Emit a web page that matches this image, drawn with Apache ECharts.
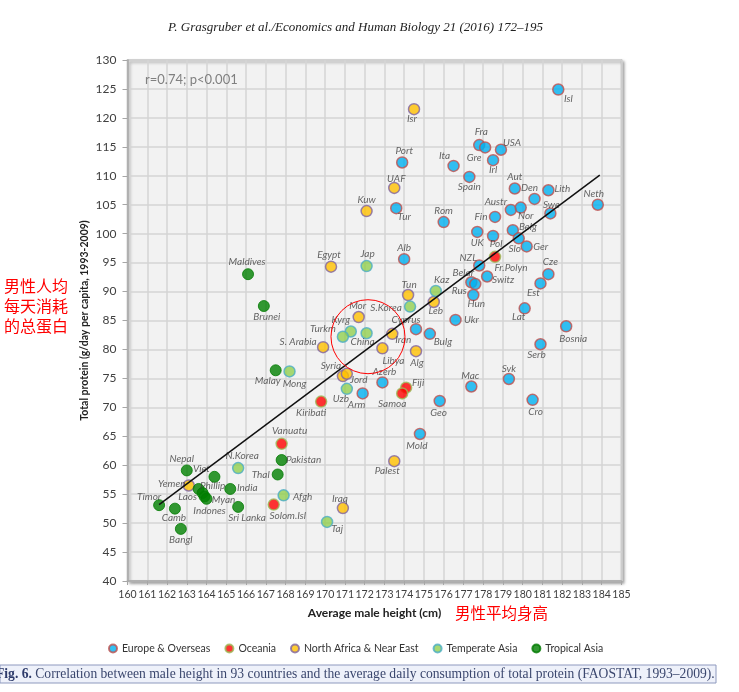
<!DOCTYPE html>
<html><head><meta charset="utf-8">
<script src="https://cdn.jsdelivr.net/npm/echarts@6/dist/echarts.min.js"></script>
<style>html,body{margin:0;padding:0;background:#fff}#c{width:739px;height:692px}</style>
</head><body><div id="c"></div>
<script>
// ---------- DATA ----------
const xMin = 160, xMax = 185, xStep = 1;
const yMin = 40, yMax = 130, yStep = 5;

const europeNames = ['Isl','Fra','Gre','USA','Irl','Port','Ita','Spain','Aut','Den','Lith','Neth','Austr','Nor','Swe','Fin','Rom','Tur','UK','Pol','Belg','Slo','Ger','Alb','NZL','Switz','Belar','Rus','Hun','Cze','Est','Lat','Ukr','Bosnia','Serb','Mac','Svk','Cro','Geo','Cyprus','Bulg','Arm','Azerb','Mold'];
const europeHeight = [181.8,177.8,178.1,178.9,178.5,173.9,176.5,177.3,179.6,180.6,181.3,183.8,179.4,179.9,181.4,178.6,176.0,173.6,177.7,178.5,179.5,179.8,180.2,174.0,177.8,178.2,177.4,177.6,177.5,181.3,180.9,180.1,176.6,182.2,180.9,177.4,179.3,180.5,175.8,174.6,175.3,171.9,172.9,174.8];
const europeProtein = [124.9,115.3,114.9,114.5,112.7,112.3,111.7,109.8,107.8,106.0,107.5,105.0,104.1,104.5,103.5,102.9,102.0,104.4,100.3,99.6,100.6,99.2,97.8,95.6,94.5,92.6,91.6,91.3,89.4,93.0,91.4,87.1,85.1,84.0,80.9,73.6,74.9,71.3,71.1,83.5,82.7,72.4,74.3,65.4];

const oceaniaNames = ['Fr.Polyn','Fiji','Samoa','Kiribati','Vanuatu','Solom.Isl'];
const oceaniaHeight = [178.6,174.1,173.9,169.8,167.8,167.4];
const oceaniaProtein = [96.0,73.4,72.4,71.0,63.7,53.2];

const nafrNames = ['Isr','Kuw','UAF','Egypt','Tun','Leb','Mor','Iran','S. Arabia','Libya','Alg','Syria','Jord','Palest','Iraq','Yemen'];
const nafrHeight = [174.5,172.1,173.5,170.3,174.2,175.5,171.7,173.4,169.9,172.9,174.6,170.9,171.1,173.5,170.9,163.1];
const nafrProtein = [121.5,103.9,107.9,94.3,89.4,88.2,85.6,82.7,80.4,80.2,79.7,75.4,75.8,60.7,52.6,56.5];

const tempNames = ['Jap','Kaz','S.Korea','Kyrg','Turkm','China','Uzb','Mong','N.Korea','Afgh','Taj'];
const tempHeight = [172.1,175.6,174.3,171.3,170.9,172.1,171.1,168.2,165.6,167.9,170.1];
const tempProtein = [94.4,90.1,87.4,83.1,82.2,82.8,73.2,76.2,59.5,54.8,50.2];

const tropNames = ['Maldives','Brunei','Malay','Pakistan','Thal','India','Sri Lanka','Nepal','Viet','Phillip','Laos','Indones','Myan','Timor','Camb','Bangl'];
const tropHeight = [166.1,166.9,167.5,167.8,167.6,165.2,165.6,163.0,164.4,163.6,163.8,163.9,164.0,161.6,162.4,162.7];
const tropProtein = [93.0,87.5,76.4,60.9,58.4,55.9,52.8,59.1,58.0,55.9,55.2,54.6,54.2,53.1,52.5,49.0];

const trendHeight = [161.6, 183.9];
const trendProtein = [53.2, 110.1];

const seriesNames = ['Europe & Overseas','Oceania','North Africa & Near East','Temperate Asia','Tropical Asia'];

// ---------- LABEL PLACEMENT (style, px offsets) ----------
const labelOffset = {
 'Isl':[10,9],'Fra':[2,-13],'Gre':[-11,10],'USA':[11,-7],'Irl':[0,10],'Port':[2,-12],'Ita':[-9,-10],'Spain':[0,10],
 'Aut':[0,-12],'Den':[-5,-11],'Lith':[14,-1],'Neth':[-4,-11],'Austr':[-15,-8],'Nor':[5,8],'Swe':[1,-9],'Fin':[-14,0],
 'Rom':[0,-11],'Tur':[8,9],'UK':[0,11],'Pol':[3,8],'Belg':[15,-3],'Slo':[-4,10],'Ger':[14,0],'Alb':[0,-11],
 'NZL':[-11,-8],'Switz':[16,3],'Belar':[-8,-10],'Rus':[-16,7],'Hun':[3,9],'Cze':[2,-12],'Est':[-7,9],'Lat':[-6,8],
 'Ukr':[16,0],'Bosnia':[7,12],'Serb':[-4,11],'Mac':[-1,-11],'Svk':[0,-10],'Cro':[3,12],'Geo':[-1,12],'Cyprus':[-10,-9],
 'Bulg':[13,8],'Arm':[-6,11],'Azerb':[2,-11],'Mold':[-3,12],
 'Fr.Polyn':[16,11],'Fiji':[12,-5],'Samoa':[-10,10],'Kiribati':[-10,11],'Vanuatu':[8,-13],'Solom.Isl':[14,11],
 'Isr':[-2,10],'Kuw':[0,-11],'UAF':[2,-9],'Egypt':[-2,-12],'Tun':[1,-10],'Leb':[2,9],'Mor':[-1,-11],'Iran':[11,6],
 'S. Arabia':[-25,-5],'Libya':[11,12],'Alg':[1,12],'Syria':[-12,-10],'Jord':[12,6],'Palest':[-7,10],'Iraq':[-3,-9],'Yemen':[-17,-2],
 'Jap':[1,-12],'Kaz':[6,-11],'S.Korea':[-24,1],'Kyrg':[-10,-12],'Turkm':[-20,-8],'China':[-4,9],'Uzb':[-6,10],'Mong':[5,12],
 'N.Korea':[4,-12],'Afgh':[19,1],'Taj':[10,7],
 'Maldives':[-1,-12],'Brunei':[3,11],'Malay':[-8,10],'Pakistan':[22,0],'Thal':[-17,0],'India':[17,-1],'Sri Lanka':[9,11],
 'Nepal':[-5,-12],'Viet':[-13,-8],'Phillip':[14,-3],'Laos':[-15,4],'Indones':[5,14],'Myan':[17,1],'Timor':[-10,-8],
 'Camb':[-1,9],'Bangl':[0,11]
};

const FONT = 'Lato, "Open Sans", "Noto Sans", sans-serif';

function build(names, hs, ps) {
  return names.map((n, i) => ({
    value: [hs[i], ps[i]],
    name: n,
    label: { offset: labelOffset[n] || [0, -11] }
  }));
}

const styles = [
  { color: '#00B0F0', borderColor: '#C0504D', borderWidth: 1.5 },
  { color: '#FF0000', borderColor: '#9BBB59', borderWidth: 1.5 },
  { color: '#FFC000', borderColor: '#8064A2', borderWidth: 1.5 },
  { color: '#92D050', borderColor: '#4BACC6', borderWidth: 1.5 },
  { color: '#008000', borderColor: '#037A03', borderWidth: 1 }
];

const groups = [
  build(europeNames, europeHeight, europeProtein),
  build(oceaniaNames, oceaniaHeight, oceaniaProtein),
  build(nafrNames, nafrHeight, nafrProtein),
  build(tempNames, tempHeight, tempProtein),
  build(tropNames, tropHeight, tropProtein)
];

const scatterSeries = groups.map((d, k) => ({
  name: seriesNames[k],
  type: 'scatter',
  symbol: 'circle',
  symbolSize: 11,
  itemStyle: styles[k],
  z: 2,
  label: {
    show: true,
    position: 'inside',
    formatter: p => p.name,
    fontFamily: FONT,
    fontStyle: 'italic',
    fontSize: 10,
    color: '#404040'
  },
  emphasis: { disabled: true },
  data: d
}));

const chart = echarts.init(document.getElementById('c'), null, { renderer: 'canvas' });

const option = {
  backgroundColor: '#ffffff',
  animation: false,
  textStyle: { fontFamily: FONT },
  grid: {
    left: 127.5, right: 117.5, top: 60, bottom: 111,
    show: true, backgroundColor: '#F2F2F2',
    borderColor: '#B8B8B8', borderWidth: 1.5,
    shadowBlur: 3, shadowColor: 'rgba(0,0,0,0.35)', shadowOffsetX: 2, shadowOffsetY: 2
  },
  legend: {
    data: seriesNames,
    top: 638, left: 103,
    icon: 'circle', itemWidth: 8, itemHeight: 8, itemGap: 14,
    textStyle: { fontFamily: FONT, fontSize: 10.5, color: '#333' },
    selectedMode: false
  },
  xAxis: {
    type: 'value', min: xMin, max: xMax, interval: xStep,
    name: 'Average male height (cm)', nameLocation: 'middle', nameGap: 26, nameMoveOverlap: false,
    nameTextStyle: { fontFamily: FONT, fontWeight: 'bold', fontSize: 12, color: '#222' },
    axisLine: { show: true, onZero: false, lineStyle: { color: '#A6A6A6', width: 1.5 } },
    axisTick: { show: true, length: 4, lineStyle: { color: '#A6A6A6' } },
    axisLabel: { fontFamily: FONT, fontSize: 10.5, color: '#404040', margin: 8 },
    splitLine: { show: true, lineStyle: { color: '#D4D4D4', width: 1.5 } }
  },
  yAxis: {
    type: 'value', min: yMin, max: yMax, interval: yStep,
    name: 'Total protein (g/day per capita, 1993-2009)', nameLocation: 'middle', nameGap: 37, nameMoveOverlap: false,
    nameTextStyle: { fontFamily: FONT, fontWeight: 'bold', fontSize: 10.5, color: '#222' },
    axisLine: { show: true, onZero: false, lineStyle: { color: '#A6A6A6', width: 1.5 } },
    axisTick: { show: true, length: 5, lineStyle: { color: '#A6A6A6' } },
    axisLabel: { fontFamily: FONT, fontSize: 12, color: '#404040', margin: 11 },
    splitLine: { show: true, lineStyle: { color: '#D4D4D4', width: 1.5 } }
  },
  series: scatterSeries.concat([{
    name: 'trend', type: 'line', z: 3, symbol: 'none', silent: true,
    lineStyle: { color: '#111', width: 1.5 },
    data: trendHeight.map((h, i) => [h, trendProtein[i]])
  }])
};

chart.setOption(option);

const ctr = chart.convertToPixel({ gridIndex: 0 }, [172.17, 82.2]);

chart.setOption({
  graphic: [
    { type: 'text', x: 168, y: 28, style: {
      text: 'P. Grasgruber et al./Economics and Human Biology 21 (2016) 172–195',
      font: 'italic 13px "Liberation Serif", serif', fill: '#222', verticalAlign: 'middle' } },
    { type: 'text', x: 145, y: 80, style: {
      text: 'r=0.74; p<0.001', font: '13px ' + FONT, fill: '#808080', verticalAlign: 'middle' } },
    { type: 'text', x: 4, y: 276, style: {
      text: '男性人均\n每天消耗\n的总蛋白', font: '16px "Noto Sans CJK SC", sans-serif', fill: '#FF0000', lineHeight: 20 } },
    { type: 'text', x: 455, y: 613, style: {
      text: '男性平均身高', font: '15.5px "Noto Sans CJK SC", sans-serif', fill: '#FF0000', verticalAlign: 'middle' } },
    { type: 'circle', shape: { cx: ctr[0], cy: ctr[1], r: 37 }, style: { fill: 'none', stroke: '#FF0000', lineWidth: 1 }, z: 10 },
    { type: 'rect', shape: { x: 0, y: 665, width: 716, height: 18 }, style: { fill: '#EEF1FA', stroke: '#8E99BE', lineWidth: 1 } },
    { type: 'text', x: -4, y: 674, z: 11, style: {
      text: '{b|Fig. 6.} Correlation between male height in 93 countries and the average daily consumption of total protein (FAOSTAT, 1993–2009).',
      verticalAlign: 'middle',
      rich: {
        b: { fontFamily: '"Liberation Serif", serif', fontSize: 13.6, fontWeight: 'bold', fill: '#2E3B6B' }
      },
      font: '13.6px "Liberation Serif", serif', fill: '#3B476E' } }
  ]
});
</script>
</body></html>
